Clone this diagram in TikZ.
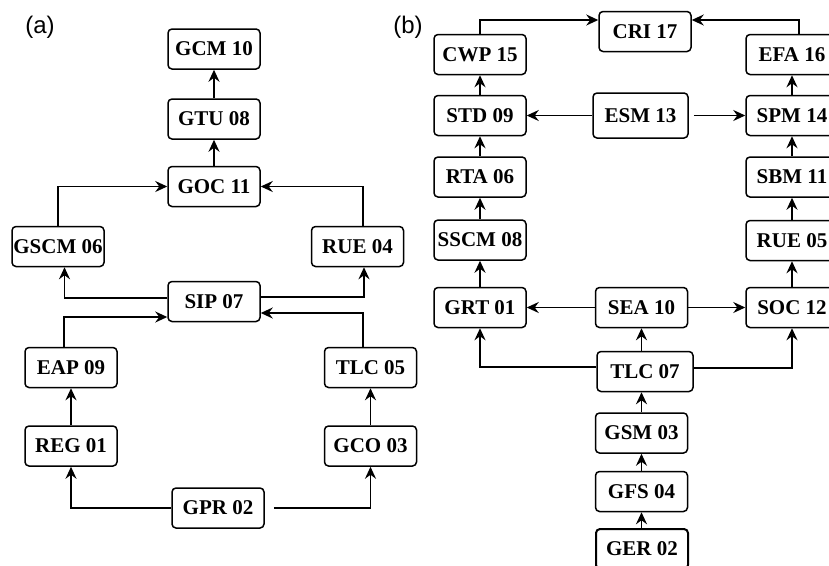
\documentclass[tikz,border=0pt]{standalone}
\usepackage{fontspec}
\setmainfont{Liberation Serif}
\newfontfamily\labfont{Liberation Sans}
\usetikzlibrary{arrows.meta}
\begin{document}
\begin{tikzpicture}[x=1pt,y=-1pt,
  stage/.style={draw, line width=1.5pt, rounded corners=4pt, fill=white,
    minimum width=92pt, minimum height=40pt, inner sep=0pt,
    font=\bfseries\fontsize{21}{24}\selectfont},
  arr/.style={line width=1.6pt, -{Stealth[length=12pt,width=11pt,inset=4pt]}},
  panel/.style={inner sep=0pt, font=\labfont\fontsize{24}{28}\selectfont}]
\useasboundingbox (0,0) rectangle (829,565);
\clip (0,0) rectangle (829,565);

% ---------------- panel (a) ----------------
\node[panel] (la) at (40,27) {(a)};
\node[stage] (gcm) at (214,49)    {GCM 10};
\node[stage] (gtu) at (214,119)   {GTU 08};
\node[stage] (goc) at (214,186.5) {GOC 11};
\node[stage] (gscm) at (58,246.5) {GSCM 06};
\node[stage] (rue4) at (357.5,246.5) {RUE 04};
\node[stage] (sip) at (214,301.5) {SIP 07};
\node[stage] (eap) at (71,367.5)  {EAP 09};
\node[stage] (reg) at (71,446)    {REG 01};
\node[stage] (tlc5) at (370.5,367.5) {TLC 05};
\node[stage] (gco) at (370.5,446) {GCO 03};
\node[stage] (gpr) at (218,508)   {GPR 02};

\draw[arr] (gtu.north) -- (gcm.south);
\draw[arr] (goc.north) -- (gtu.south);
\draw[arr] (gscm.north) |- (goc.west);
\draw[arr] ([xshift=5.5pt]rue4.north) |- (goc.east);
\draw[arr] ([yshift=3.5pt]sip.west) -| ([xshift=6.5pt]gscm.south);
\draw[arr] ([yshift=4.5pt]sip.east) -| ([xshift=6.5pt]rue4.south);
\draw[arr] ([xshift=-7pt]eap.north) |- ([yshift=-15.5pt]sip.west);
\draw[arr] ([xshift=-7.5pt]tlc5.north) |- ([yshift=-11.5pt]sip.east);
\draw[arr] (reg.north) -- (eap.south);
\draw[arr] (gco.north) -- (tlc5.south);
\draw[arr] (gpr.west) -| (reg.south);
\draw[arr, shorten <=9pt] (gpr.east) -| (gco.south);

% ---------------- panel (b) ----------------
\node[panel] (lb) at (408,27) {(b)};
\node[stage] (cri) at (645,31.5)   {CRI 17};
\node[stage] (cwp) at (480,54.5)   {CWP 15};
\node[stage] (efa) at (792,54.5)   {EFA 16};
\node[stage, minimum width=95pt, minimum height=45pt] (esm) at (640.5,115.5) {ESM 13};
\node[stage] (std) at (480,115.5)  {STD 09};
\node[stage] (spm) at (792,115.5)  {SPM 14};
\node[stage] (rta) at (480,177)    {RTA 06};
\node[stage] (sbm) at (792,177)    {SBM 11};
\node[stage] (sscm) at (480,240)   {SSCM 08};
\node[stage] (rue5) at (792,240.5) {RUE 05};
\node[stage] (grt) at (480,307.5)  {GRT 01};
\node[stage] (sea) at (641.5,307.5) {SEA 10};
\node[stage] (soc) at (792,307.5)  {SOC 12};
\node[stage, minimum width=96pt] (tlc7) at (645,371.5) {TLC 07};
\node[stage] (gsm) at (641.5,433)  {GSM 03};
\node[stage] (gfs) at (641.5,491.5) {GFS 04};
\node[stage, line width=2pt] (ger) at (642,549) {GER 02};

\draw[arr] (cwp.north) |- ([yshift=11.5pt]cri.west);
\draw[arr] ([xshift=7pt]efa.north) |- ([yshift=11.5pt]cri.east);
\draw[arr] (std.north) -- (cwp.south);
\draw[arr] (esm.west) -- (std.east);
\draw[arr, shorten <=5pt] (esm.east) -- (spm.west);
\draw[arr] (spm.north) -- (efa.south);
\draw[arr] (rta.north) -- (std.south);
\draw[arr] (sscm.north) -- (rta.south);
\draw[arr] (grt.north) -- (sscm.south);
\draw[arr] (sbm.north) -- (spm.south);
\draw[arr] (rue5.north) -- (sbm.south);
\draw[arr] (soc.north) -- (rue5.south);
\draw[arr] (sea.west) -- (grt.east);
\draw[arr] (sea.east) -- (soc.west);
\draw[arr] (tlc7.north -| sea.south) -- (sea.south);
\draw[arr] ([yshift=4.5pt]tlc7.west) -| (grt.south);
\draw[arr] ([yshift=3.5pt]tlc7.east) -| (soc.south);
\draw[arr] (gsm.north) -- (gsm.north |- tlc7.south);
\draw[arr] (gfs.north) -- (gsm.south);
\draw[arr] (ger.north -| gfs.south) -- (gfs.south);
\end{tikzpicture}
\end{document}
